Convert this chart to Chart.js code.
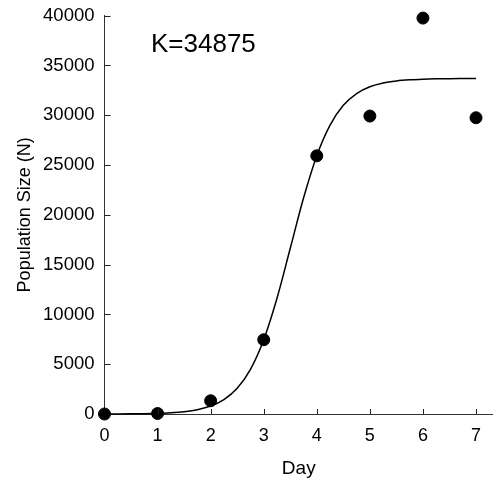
<!DOCTYPE html>
<html>
<head>
<meta charset="utf-8">
<script src="https://cdn.jsdelivr.net/npm/chart.js@4/dist/chart.umd.min.js"></script>
<style>
html,body{margin:0;padding:0;background:#fff;}
#c{display:block;}
</style>
</head>
<body>
<canvas id="c" width="493" height="478"></canvas>
<script>
// Observed data
const days = [0, 1, 2, 3, 4, 5, 6, 7];
const population = [0, 50, 1330, 7460, 25930, 29920, 39760, 29750];

// Fitted curve
const curveDays = [0, 0.25, 0.5, 0.75, 1, 1.25, 1.5, 1.75, 2, 2.25, 2.5, 2.75, 3, 3.25, 3.5, 3.75, 4, 4.25, 4.5, 4.75, 5, 5.25, 5.5, 5.75, 6, 6.25, 6.5, 6.75, 7];
const curveValues = [6, 11, 20, 37, 69, 128, 236, 435, 797, 1446, 2582, 4487, 7464, 11629, 16641, 21686, 25941, 29014, 30996, 32184, 32864, 33243, 33451, 33565, 33627, 33661, 33679, 33688, 33694];

const xTicks = [0, 1, 2, 3, 4, 5, 6, 7];
const yTicks = [0, 5000, 10000, 15000, 20000, 25000, 30000, 35000, 40000];
const annotationText = 'K=34875';
const xTitle = 'Day';
const yTitle = 'Population Size (N)';

const FONT = "'Liberation Sans', Arial, sans-serif";

const innerTicks = {
  id: 'innerTicks',
  afterDatasetsDraw(chart) {
    const ctx = chart.ctx;
    const xs = chart.scales.x, ys = chart.scales.y;
    ctx.save();
    ctx.strokeStyle = '#222';
    ctx.lineWidth = 1;
    ctx.beginPath();
    xTicks.forEach(v => {
      if (v === 0) return;
      const px = Math.round(xs.getPixelForValue(v)) + 0.5;
      ctx.moveTo(px, ys.bottom);
      ctx.lineTo(px, ys.bottom - 5);
    });
    yTicks.forEach(v => {
      if (v === 0) return;
      const py = Math.round(ys.getPixelForValue(v)) + 0.5;
      ctx.moveTo(xs.left, py);
      ctx.lineTo(xs.left + 6, py);
    });
    ctx.stroke();
    // annotation
    ctx.fillStyle = '#000';
    ctx.font = '26px ' + FONT;
    ctx.textBaseline = 'middle';
    ctx.textAlign = 'left';
    ctx.fillText(annotationText, 151, 45);
    ctx.restore();
  }
};

new Chart(document.getElementById('c'), {
  type: 'scatter',
  data: {
    datasets: [
      {
        type: 'line',
        data: curveDays.map((d, i) => ({x: d, y: curveValues[i]})),
        borderColor: '#000',
        borderWidth: 1.5,
        pointRadius: 0,
        fill: false,
        cubicInterpolationMode: 'monotone',
        clip: false,
        order: 2
      },
      {
        data: days.map((d, i) => ({x: d, y: population[i]})),
        backgroundColor: '#000',
        borderColor: '#000',
        pointRadius: 6,
        pointHoverRadius: 6,
        clip: false,
        order: 1
      }
    ]
  },
  options: {
    responsive: false,
    animation: false,
    events: [],
    layout: { autoPadding: false, padding: { top: 15.7, right: 0, bottom: 0, left: 0 } },
    plugins: { legend: { display: false }, tooltip: { enabled: false } },
    scales: {
      x: {
        type: 'linear',
        min: 0,
        max: 7.32,
        afterBuildTicks(scale) { scale.ticks = xTicks.map(v => ({value: v})); },
        afterFit(scale) { scale.height = 64; scale.paddingLeft = 0; scale.paddingRight = 0; },
        grid: { display: true, drawOnChartArea: false, drawTicks: false },
        border: { display: true, color: '#333', width: 1 },
        ticks: { color: '#000', font: { family: FONT, size: 18 }, padding: 11, maxRotation: 0 },
        title: { display: true, text: xTitle, color: '#000', font: { family: FONT, size: 19 }, padding: { top: 0, bottom: -2 } }
      },
      y: {
        type: 'linear',
        min: 0,
        max: 40000,
        afterBuildTicks(scale) { scale.ticks = yTicks.map(v => ({value: v})); },
        afterFit(scale) { scale.width = 104.5; scale.paddingTop = 0; scale.paddingBottom = 0; },
        grid: { display: true, drawOnChartArea: false, drawTicks: false },
        border: { display: true, color: '#333', width: 1 },
        ticks: { color: '#000', font: { family: FONT, size: 18.5 }, padding: 10, callback: v => String(v) },
        title: { display: true, text: yTitle, color: '#000', font: { family: FONT, size: 18 }, padding: { top: 14, bottom: 0 } }
      }
    }
  },
  plugins: [innerTicks]
});
</script>
</body>
</html>
